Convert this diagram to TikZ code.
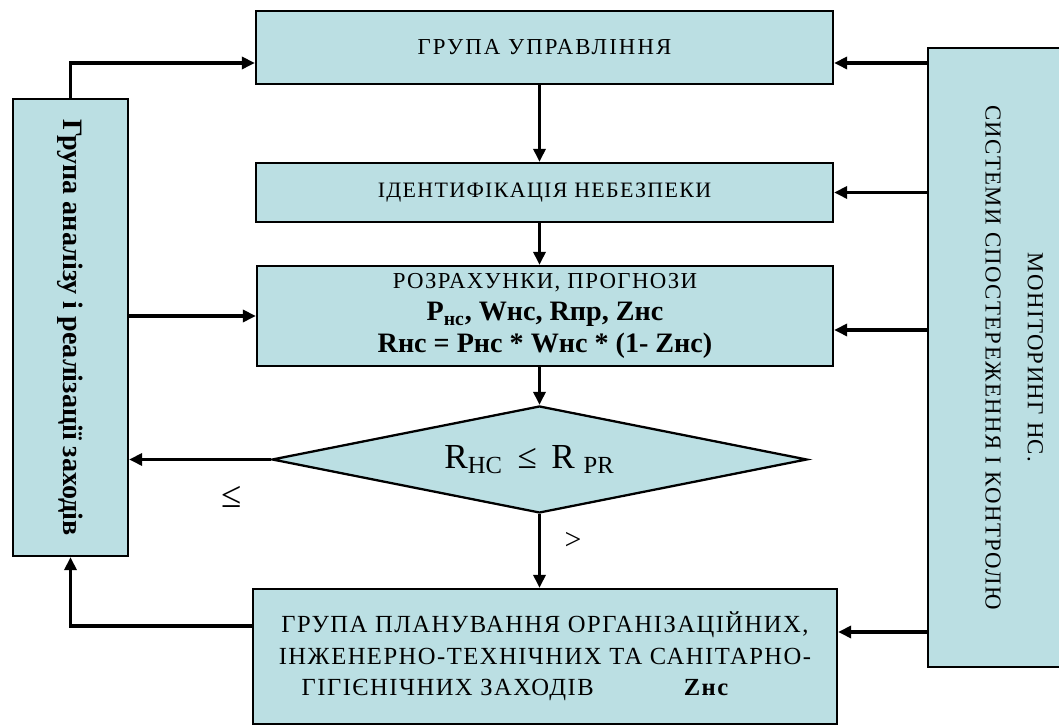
\documentclass[tikz,border=0pt]{standalone}
\usepackage{fontspec}
\setmainfont{Liberation Serif}
\usetikzlibrary{positioning,arrows.meta,shapes.geometric,calc}
\definecolor{BoxFill}{HTML}{BBDFE3}
\newcommand{\wide}{\addfontfeature{LetterSpace=6}}

\begin{document}
\begin{tikzpicture}[
  every node/.style={text=black},
  BX/.style={draw=black, fill=BoxFill, line width=1.3pt, inner sep=2pt, align=center},
  ar/.style={-{Triangle[length=2.6mm,width=2.4mm]}, line width=2pt},
]
  \useasboundingbox (0,0) rectangle (21.18,14.5);

  % MAIN COLUMN
  \node[BX, minimum width=11.54cm, minimum height=1.46cm,
        font=\fontsize{13}{15}\selectfont\addfontfeature{LetterSpace=9}] (gu) at (10.89,13.55) {ГРУПА УПРАВЛІННЯ};
  \node[BX, minimum width=11.54cm, minimum height=1.18cm,
        font=\fontsize{12.5}{14}\selectfont\wide] (id) at (10.89,10.65) {ІДЕНТИФІКАЦІЯ НЕБЕЗПЕКИ};
  \node[BX, minimum width=11.52cm, minimum height=2.0cm,
        font=\fontsize{13}{18}\selectfont] (rz) at (10.90,8.18)
    {{\wide РОЗРАХУНКИ, ПРОГНОЗИ}\\
     {\fontsize{16}{18}\selectfont\bfseries P\textsubscript{нс}, Wнс, Rпр, Zнс}\\
     {\fontsize{16}{18}\selectfont\bfseries Rнс = Pнс * Wнс * (1- Zнс)}};
  \node[BX, shape=diamond, aspect=5, inner sep=0pt, minimum width=10.7cm, minimum height=2.14cm,
        font=\fontsize{20}{22}\selectfont] (dia) at (10.79,5.31)
    {R\textsubscript{HC}\, ≤\, R \textsubscript{PR}\hspace*{0.4cm}};
  \node[BX, minimum width=11.68cm, minimum height=2.7cm,
        font=\fontsize{14}{18}\selectfont\wide] (pl) at (10.90,1.37)
    {ГРУПА ПЛАНУВАННЯ ОРГАНІЗАЦІЙНИХ,\\
     ІНЖЕНЕРНО-ТЕХНІЧНИХ ТА САНІТАРНО-\\
     ГІГІЄНІЧНИХ ЗАХОДІВ\hspace{1.8cm}{\bfseries Zнс}\hspace*{1.2cm}};

  % SIDE BOXES
  \node[BX, minimum width=2.3cm, minimum height=9.14cm,
        font=\fontsize{16}{18}\selectfont\bfseries] (an) at (1.41,7.95)
    {\rotatebox{-90}{Група аналізу і реалізації заходів}};
  \node[BX, minimum width=3.36cm, minimum height=12.38cm,
        font=\fontsize{13}{15}\selectfont\wide] (mon) at (20.24,7.35)
    {\rotatebox{-90}{\begin{tabular}{@{}c@{}}МОНІТОРИНГ НС.\\[9pt]
      СИСТЕМИ СПОСТЕРЕЖЕННЯ І КОНТРОЛЮ\end{tabular}}};

  % Down the column
  \draw[ar] (gu.south -| dia.north) -- (id.north -| dia.north);
  \draw[ar] (id.south -| dia.north) -- (rz.north -| dia.north);
  \draw[ar] (rz.south -| dia.north) -- (dia.north);
  \draw[ar] (dia.south) -- (pl.north -| dia.south)
    node[pos=0.36, right=3.5mm, font=\fontsize{17}{18}\selectfont]{>};
  \draw[ar] (dia.west) -- (dia.west -| an.east)
    node[pos=0.28, yshift=-0.74cm, font=\fontsize{21}{22}\selectfont]{≤};

  % Left loop
  \coordinate (gu-l) at ([yshift=-0.31cm]gu.west);
  \draw[ar] (an.north) |- (gu-l);
  \draw[ar] (an.east |- rz.west) -- (rz.west);
  \coordinate (pl-l) at ([yshift=0.61cm]pl.west);
  \draw[ar] (pl-l) -| (an.south);

  % Monitoring feeds
  \coordinate (gu-r) at ([yshift=-0.31cm]gu.east);
  \coordinate (rz-r) at ([yshift=-0.28cm]rz.east);
  \coordinate (pl-r) at ([yshift=0.49cm]pl.east);
  \draw[ar] (gu-r -| mon.west) -- (gu-r);
  \draw[ar] (id.east -| mon.west) -- (id.east);
  \draw[ar] (rz-r -| mon.west) -- (rz-r);
  \draw[ar] (pl-r -| mon.west) -- (pl-r);
\end{tikzpicture}
\end{document}
